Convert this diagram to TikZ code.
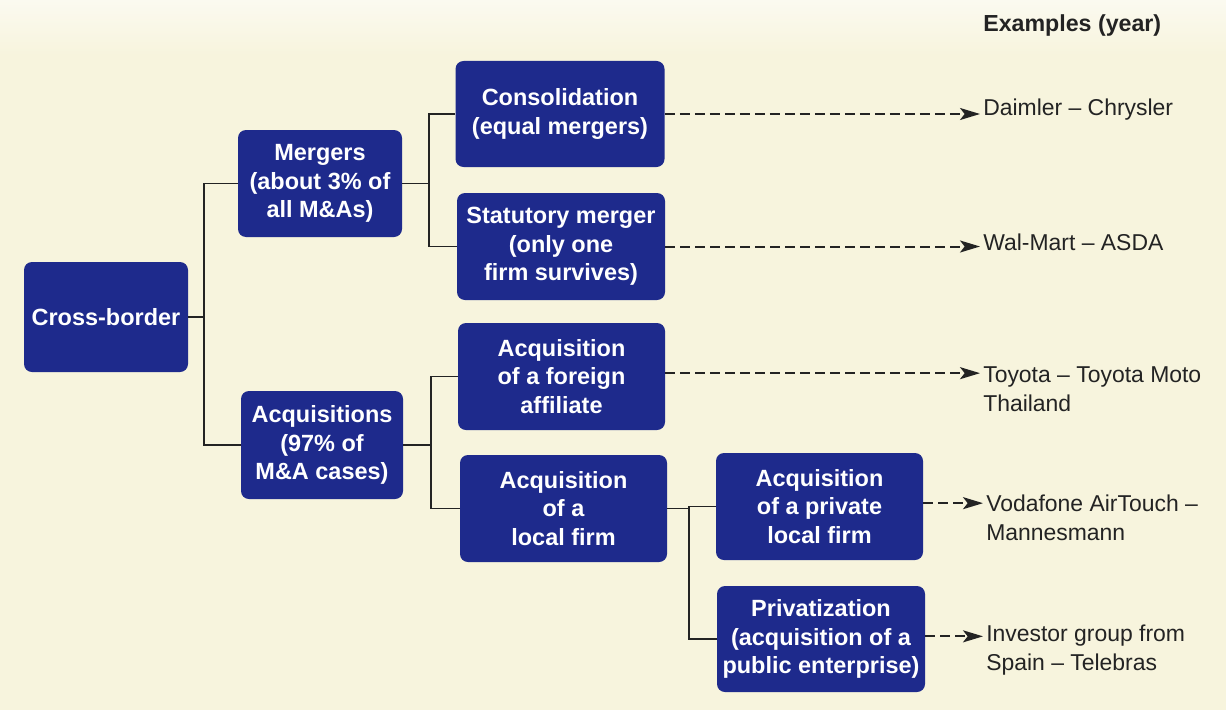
\documentclass[tikz,border=0pt]{standalone}
\usepackage{fontspec}
\setmainfont{Liberation Sans}
\usetikzlibrary{arrows.meta}

\definecolor{paper}{RGB}{247,244,221}
\definecolor{paperlight}{RGB}{251,250,240}
\definecolor{boxblue}{RGB}{30,42,140}
\definecolor{ink}{RGB}{35,35,35}

\tikzset{
  box/.style={fill=boxblue, rounded corners=6pt, text=white, align=center,
    inner sep=0pt, font=\fontsize{17.6}{21.4}\selectfont\bfseries},
  boxsize/.style 2 args={minimum width=#1*0.75pt, minimum height=#2*0.75pt},
  link/.style={draw=ink, line width=1.3pt},
  lead/.style={draw=ink, line width=1.5pt, dash pattern=on 7.5pt off 3.75pt,
    -{Stealth[length=15pt, width=9pt, inset=3.5pt]}},
  example/.style={anchor=west, align=left, inner xsep=2.25pt, inner ysep=0pt,
    text=ink, font=\fontsize{17.2}{21.75}\selectfont},
}

\begin{document}
\begin{tikzpicture}[x=0.75pt, y=-0.75pt]
  % page
  \useasboundingbox (0,0) rectangle (1226,710);
  \fill[paper] (0,0) rectangle (1226,710);
  \shade[top color=paperlight, bottom color=paper] (0,0) rectangle (1226,55);

  % heading of the example column
  \node[anchor=west, inner xsep=0pt, text=ink,
        font=\fontsize{17.4}{21}\selectfont\bfseries] (head) at (983,26) {Examples (year)};

  % tree of deal types
  \node[box, boxsize={164}{110}] (cb)   at (106,317)   {Cross-border};
  \node[box, boxsize={164}{107}] (mer)  at (320,183.5) {Mergers\\(about 3\% of\\all M\&As)};
  \node[box, boxsize={162}{108}] (acq)  at (322,445)   {Acquisitions\\(97\% of\\M\&A cases)};
  \node[box, boxsize={209}{106}] (con)  at (560,114)   {Consolidation\\(equal mergers)};
  \node[box, boxsize={208}{107}] (stat) at (561,246.5) {Statutory merger\\(only one\\firm survives)};
  \node[box, boxsize={207}{107}] (frn)  at (561.5,376.5) {Acquisition\\of a foreign\\affiliate};
  \node[box, boxsize={207}{107}] (loc)  at (563.5,508.5) {Acquisition\\of a\\local firm};
  \node[box, boxsize={207}{107}] (prv)  at (819.5,506.5) {Acquisition\\of a private\\local firm};
  \node[box, boxsize={208}{106}] (pub)  at (821,639)   {Privatization\\(acquisition of a\\public enterprise)};

  % branch points of the connectors
  \coordinate (b1) at (204,317);
  \coordinate (b2) at (429,183.5);
  \coordinate (b3) at (431,445);
  \coordinate (b4) at (689,508.5);

  \draw[link] (cb.east) -- (b1);
  \draw[link] (mer.west) -| (b1) |- (acq.west);
  \draw[link] (mer.east) -- (b2);
  \draw[link] (con.west) -| (b2) |- (stat.west);
  \draw[link] (acq.east) -- (b3);
  \draw[link] (frn.west) -| (b3) |- (loc.west);
  \draw[link] (loc.east) -- (b4);
  \draw[link] (prv.west) -| (b4) |- (pub.west);

  % examples
  \node[example] (ex1) at (980,110) {Daimler -- Chrysler};
  \node[example] (ex2) at (980,242) {Wal-Mart -- ASDA};
  \node[example] (ex3) at (980,389) {Toyota -- Toyota Moto\\Thailand};
  \node[example] (ex4) at (983,518) {Vodafone AirTouch --\\Mannesmann};
  \node[example] (ex5) at (983,650) {Investor group from\\Spain -- Telebras};

  \draw[lead] (con.east)  -- (con.east -| ex1.west);
  \draw[lead] (stat.east) -- (stat.east -| ex2.west);
  \draw[lead] ([yshift=2.5pt]frn.east) -- ([yshift=2.5pt]frn.east -| ex3.west);
  \draw[lead] ([yshift=2.5pt]prv.east) -- ([yshift=2.5pt]prv.east -| ex4.west);
  \draw[lead] ([yshift=2pt]pub.east) -- ([yshift=2pt]pub.east -| ex5.west);
\end{tikzpicture}
\end{document}
